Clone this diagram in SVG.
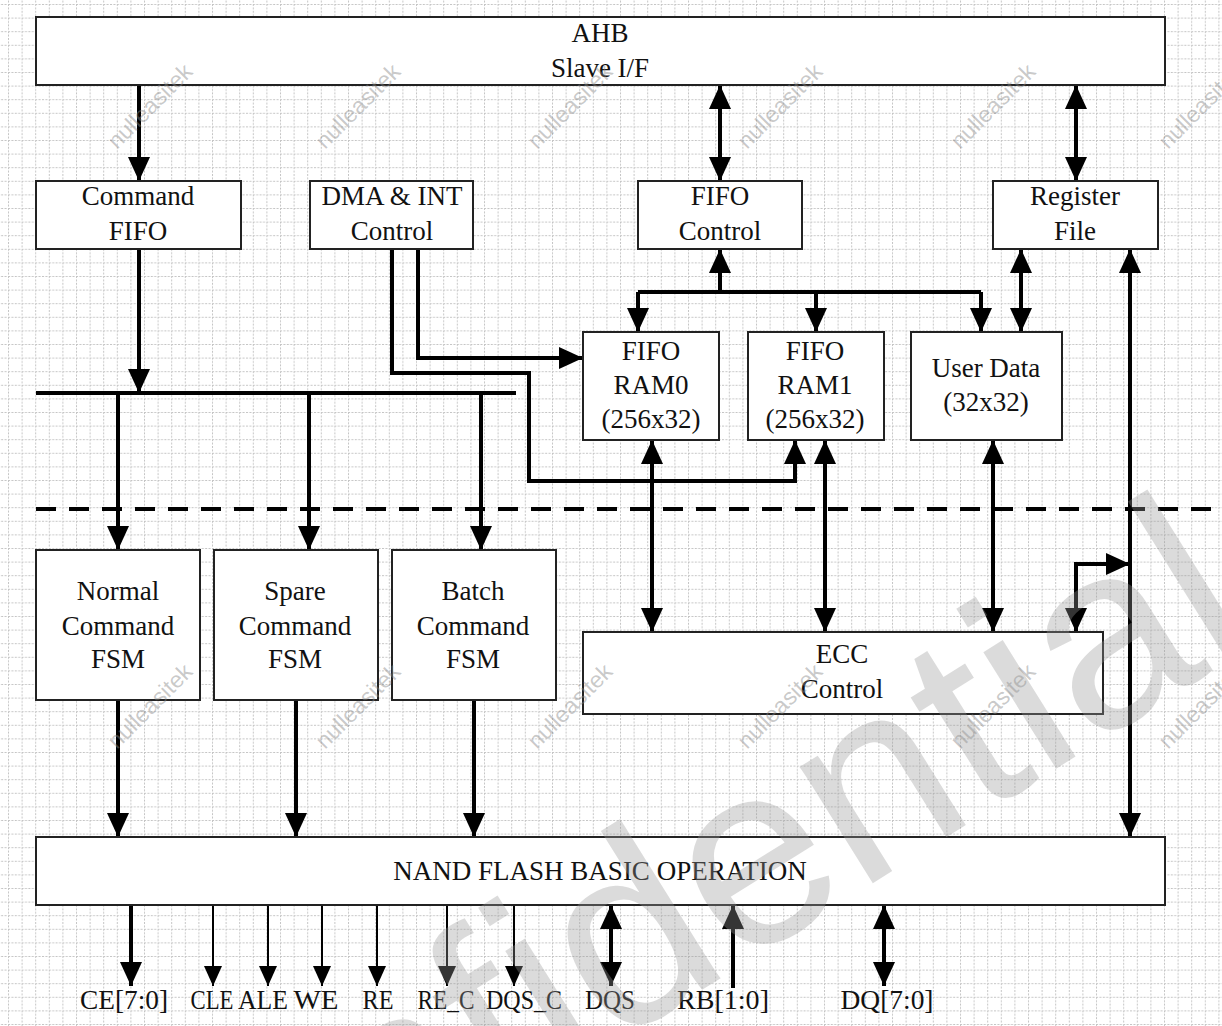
<svg xmlns="http://www.w3.org/2000/svg" width="1222" height="1026" viewBox="0 0 1222 1026">
<defs>
<pattern id="grid" width="13.6" height="13.6" patternUnits="userSpaceOnUse" x="8" y="4">
<path d="M0,0.5 H13.6 M0.5,0 V13.6" stroke="#c4c4c4" stroke-width="1" stroke-dasharray="2 1.4" fill="none"/>
</pattern>
<marker id="ah" markerUnits="userSpaceOnUse" markerWidth="24" markerHeight="22" refX="24" refY="11" orient="auto-start-reverse" viewBox="0 0 24 22">
<path d="M0,0 L24,11 L0,22 z" fill="#000"/>
</marker>
<marker id="ahs" markerUnits="userSpaceOnUse" markerWidth="20" markerHeight="18" refX="20" refY="9" orient="auto-start-reverse" viewBox="0 0 20 18">
<path d="M0,0 L20,9 L0,18 z" fill="#000"/>
</marker>
<style>
.box{fill:#fff;stroke:#222;stroke-width:2}
.lbl{font-family:"Liberation Serif","Times New Roman",serif;font-size:27px;fill:#111;text-anchor:middle}
.w{fill:none;stroke:#000;stroke-width:4}
.t{fill:none;stroke:#000;stroke-width:2}
.e{marker-end:url(#ah)}
.b{marker-start:url(#ah);marker-end:url(#ah)}
.es{marker-end:url(#ahs)}
.dash{fill:none;stroke:#000;stroke-width:4;stroke-dasharray:20 13}
.wm{font-family:"Liberation Sans",Arial,sans-serif;font-size:23px;fill:#888;fill-opacity:0.45}
.conf{font-family:"Liberation Sans",Arial,sans-serif;font-size:260px;fill:#999;fill-opacity:0.35}
</style>
</defs>
<rect x="0" y="0" width="1222" height="1026" fill="#fff"/>
<rect x="0" y="0" width="1222" height="1026" fill="url(#grid)"/>

<g id="connectors">
<path class="w e" d="M139,85 V181"/>
<path class="w b" d="M720,85 V181"/>
<path class="w b" d="M1076,85 V181"/>
<path class="w e" d="M139,249 V393"/>
<path class="w" d="M36,393 H516"/>
<path class="w e" d="M118,393 V550"/>
<path class="w e" d="M309,393 V550"/>
<path class="w e" d="M481,393 V550"/>
<path class="w e" d="M418,249 V358 H583"/>
<path class="w e" d="M392,249 V373 H529 V481 H795 V440"/>
<path class="w e" d="M720,292 V249"/>
<path class="w" d="M638,292 H981"/>
<path class="w e" d="M638,292 V332"/>
<path class="w e" d="M816,292 V332"/>
<path class="w e" d="M981,292 V332"/>
<path class="w b" d="M1021,249 V332"/>
<path class="w b" d="M652,440 V632"/>
<path class="w b" d="M825,440 V632"/>
<path class="w b" d="M993,440 V632"/>
<path class="w b" d="M1076,632 V564 H1130"/>
<path class="w b" d="M1130,249 V837"/>
<path class="w e" d="M118,700 V837"/>
<path class="w e" d="M296,700 V837"/>
<path class="w e" d="M474,700 V837"/>
<path class="dash" d="M36,509 H1222"/>
<path class="w e" d="M131,905 V986"/>
<path class="t es" d="M213,905 V986"/>
<path class="t es" d="M268,905 V986"/>
<path class="t es" d="M322,905 V986"/>
<path class="t es" d="M377,905 V986"/>
<path class="t es" d="M447,905 V986"/>
<path class="t es" d="M514,905 V986"/>
<path class="w b" d="M611,905 V986"/>
<path class="w e" d="M733,988 V905"/>
<path class="w b" d="M884,905 V986"/>
</g>

<g id="ahb"><rect class="box" x="36" y="17" width="1129" height="68"/><text class="lbl" x="600" y="42">AHB</text><text class="lbl" x="600" y="77">Slave I/F</text></g>
<g id="command-fifo"><rect class="box" x="36" y="181" width="205" height="68"/><text class="lbl" x="138" y="205">Command</text><text class="lbl" x="138" y="240">FIFO</text></g>
<g id="dma-int"><rect class="box" x="310" y="181" width="163" height="68"/><text class="lbl" x="392" y="205">DMA &amp; INT</text><text class="lbl" x="392" y="240">Control</text></g>
<g id="fifo-control"><rect class="box" x="638" y="181" width="164" height="68"/><text class="lbl" x="720" y="205">FIFO</text><text class="lbl" x="720" y="240">Control</text></g>
<g id="register-file"><rect class="box" x="993" y="181" width="165" height="68"/><text class="lbl" x="1075" y="205">Register</text><text class="lbl" x="1075" y="240">File</text></g>
<g id="fifo-ram0"><rect class="box" x="583" y="332" width="136" height="108"/><text class="lbl" x="651" y="360">FIFO</text><text class="lbl" x="651" y="394">RAM0</text><text class="lbl" x="651" y="428">(256x32)</text></g>
<g id="fifo-ram1"><rect class="box" x="748" y="332" width="136" height="108"/><text class="lbl" x="815" y="360">FIFO</text><text class="lbl" x="815" y="394">RAM1</text><text class="lbl" x="815" y="428">(256x32)</text></g>
<g id="user-data"><rect class="box" x="911" y="332" width="151" height="108"/><text class="lbl" x="986" y="377">User Data</text><text class="lbl" x="986" y="411">(32x32)</text></g>
<g id="normal-fsm"><rect class="box" x="36" y="550" width="164" height="150"/><text class="lbl" x="118" y="600">Normal</text><text class="lbl" x="118" y="635">Command</text><text class="lbl" x="118" y="668">FSM</text></g>
<g id="spare-fsm"><rect class="box" x="214" y="550" width="164" height="150"/><text class="lbl" x="295" y="600">Spare</text><text class="lbl" x="295" y="635">Command</text><text class="lbl" x="295" y="668">FSM</text></g>
<g id="batch-fsm"><rect class="box" x="392" y="550" width="164" height="150"/><text class="lbl" x="473" y="600">Batch</text><text class="lbl" x="473" y="635">Command</text><text class="lbl" x="473" y="668">FSM</text></g>
<g id="ecc-control"><rect class="box" x="583" y="632" width="520" height="82"/><text class="lbl" x="842" y="663">ECC</text><text class="lbl" x="842" y="698">Control</text></g>
<g id="nand-basic"><rect class="box" x="36" y="837" width="1129" height="68"/><text class="lbl" x="600" y="880">NAND FLASH BASIC OPERATION</text></g>

<g id="signals">
<text class="lbl" x="124" y="1009" textLength="88" lengthAdjust="spacingAndGlyphs">CE[7:0]</text>
<text class="lbl" x="212" y="1009" textLength="43" lengthAdjust="spacingAndGlyphs">CLE</text>
<text class="lbl" x="263" y="1009" textLength="50" lengthAdjust="spacingAndGlyphs">ALE</text>
<text class="lbl" x="316" y="1009" textLength="45" lengthAdjust="spacingAndGlyphs">WE</text>
<text class="lbl" x="378" y="1009" textLength="31" lengthAdjust="spacingAndGlyphs">RE</text>
<text class="lbl" x="446" y="1009" textLength="57" lengthAdjust="spacingAndGlyphs">RE_C</text>
<text class="lbl" x="524" y="1009" textLength="76" lengthAdjust="spacingAndGlyphs">DQS_C</text>
<text class="lbl" x="610" y="1009" textLength="50" lengthAdjust="spacingAndGlyphs">DQS</text>
<text class="lbl" x="723" y="1009" textLength="92" lengthAdjust="spacingAndGlyphs">RB[1:0]</text>
<text class="lbl" x="887" y="1009" textLength="93" lengthAdjust="spacingAndGlyphs">DQ[7:0]</text>
</g>

<g id="watermark">
<text class="wm" transform="translate(117,150) rotate(-45)">nulleasitek</text>
<text class="wm" transform="translate(325,150) rotate(-45)">nulleasitek</text>
<text class="wm" transform="translate(537,150) rotate(-45)">nulleasitek</text>
<text class="wm" transform="translate(747,150) rotate(-45)">nulleasitek</text>
<text class="wm" transform="translate(960,150) rotate(-45)">nulleasitek</text>
<text class="wm" transform="translate(1168,150) rotate(-45)">nulleasitek</text>
<text class="wm" transform="translate(117,750) rotate(-45)">nulleasitek</text>
<text class="wm" transform="translate(325,750) rotate(-45)">nulleasitek</text>
<text class="wm" transform="translate(537,750) rotate(-45)">nulleasitek</text>
<text class="wm" transform="translate(747,750) rotate(-45)">nulleasitek</text>
<text class="wm" transform="translate(960,750) rotate(-45)">nulleasitek</text>
<text class="wm" transform="translate(1168,750) rotate(-45)">nulleasitek</text>
<text class="conf" text-anchor="end" transform="translate(1262,640) rotate(-32)">Confidential</text>
</g>
</svg>
